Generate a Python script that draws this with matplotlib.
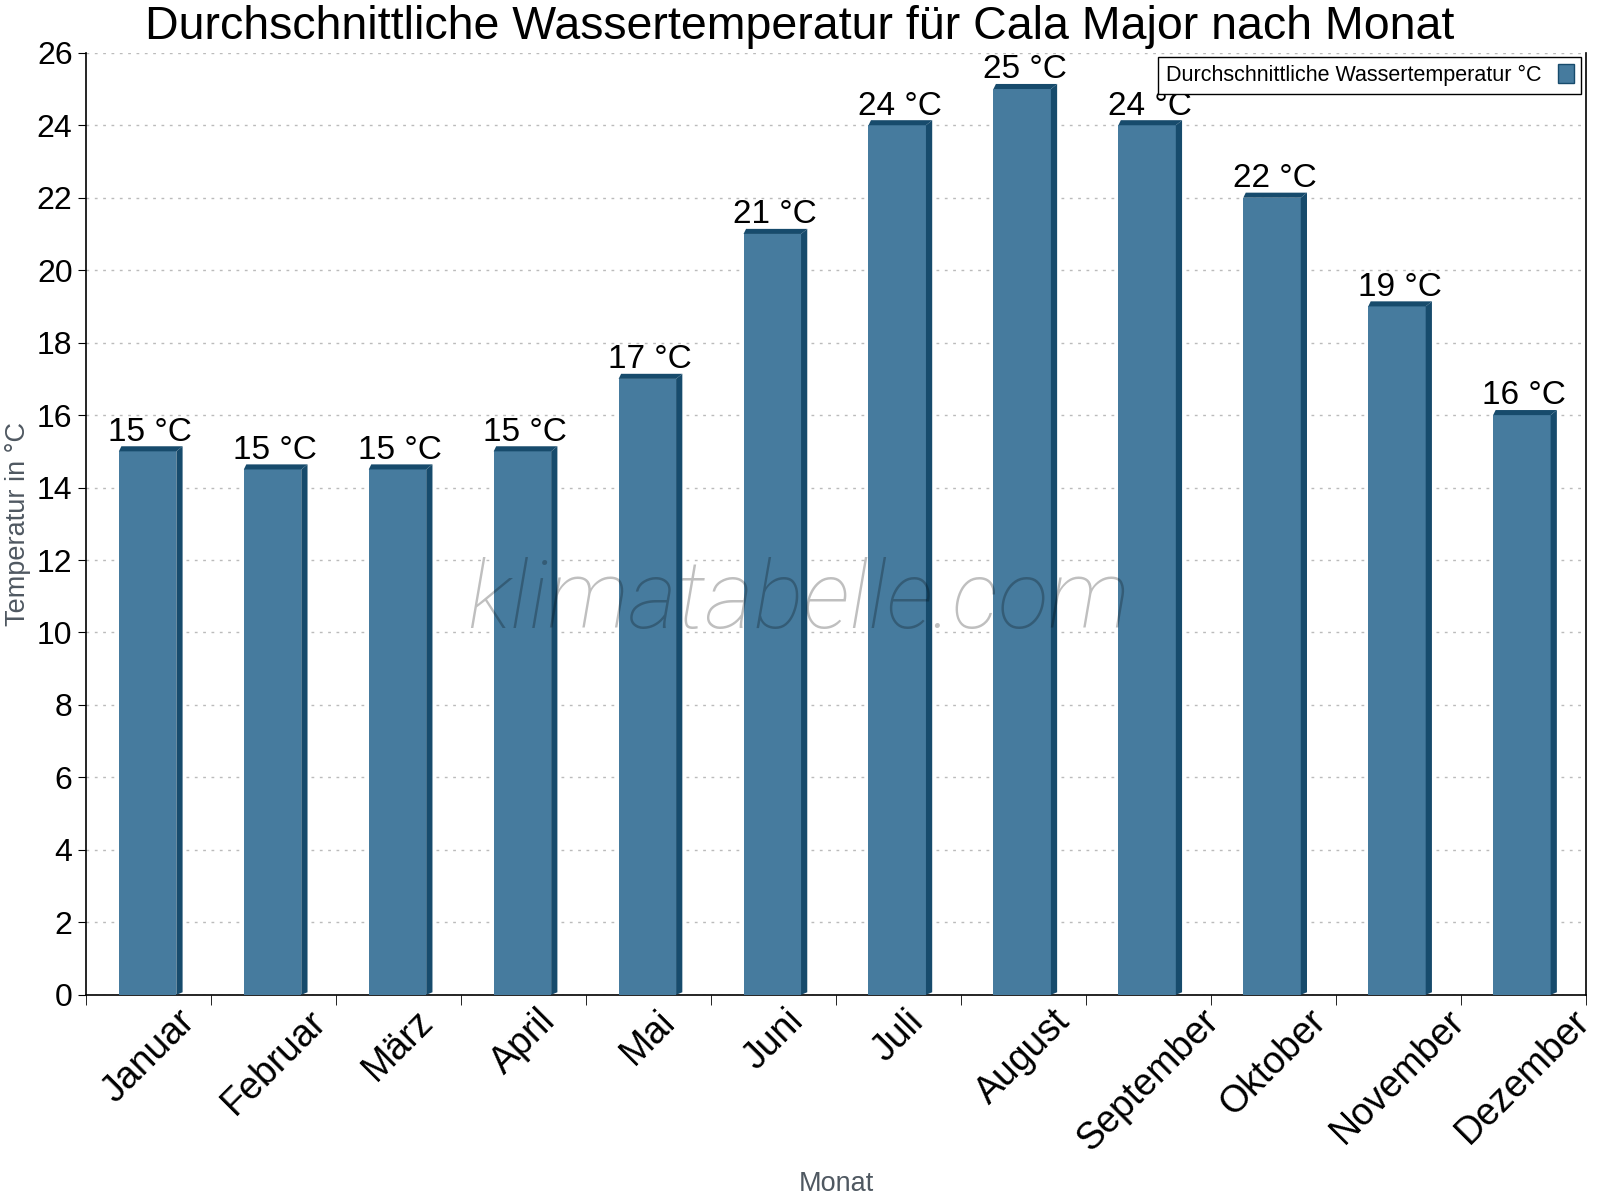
import matplotlib
matplotlib.use("Agg")
import matplotlib.pyplot as plt
from matplotlib.patches import Polygon

# Data
MONTHS = ["Januar", "Februar", "März", "April", "Mai", "Juni", "Juli",
          "August", "September", "Oktober", "November", "Dezember"]
WATER_TEMP = [15, 14.5, 14.5, 15, 17, 21, 24, 25, 24, 22, 19, 16]
BAR_LABELS = ["15 °C", "15 °C", "15 °C", "15 °C", "17 °C", "21 °C", "24 °C",
              "25 °C", "24 °C", "22 °C", "19 °C", "16 °C"]
Y_TICKS = list(range(0, 27, 2))

FRONT = "#467b9e"
DARK = "#174b6c"
LABEL_GREY = "#4f5861"

plt.rcParams["font.family"] = ["Liberation Sans", "DejaVu Sans"]

fig = plt.figure(figsize=(16, 12), dpi=100)
ax = fig.add_axes([0.054, 0.171, 0.937, 0.785])

# 3D look: front face, dark top and right side
width = 0.46
dx = 0.05
dy = 0.14
for i, val in enumerate(WATER_TEMP):
    x0 = i - 0.24
    x1 = x0 + width
    ax.bar(x0, val, width=width, align="edge", color=FRONT, zorder=3)
    top = Polygon([(x0, val), (x0 + dx * 0.4, val + dy), (x1 + dx, val + dy), (x1, val)],
                  closed=True, facecolor=DARK, edgecolor="none", zorder=3)
    side = Polygon([(x1, 0), (x1 + dx, dy * 0.5), (x1 + dx, val + dy), (x1, val)],
                   closed=True, facecolor=DARK, edgecolor="none", zorder=3)
    ax.add_patch(top)
    ax.add_patch(side)
    ax.text(i + 0.01, val + dy - 0.04, BAR_LABELS[i], ha="center", va="bottom",
            fontsize=24, color="black", zorder=5)

ax.set_xlim(-0.5, len(MONTHS) - 0.5)
ax.set_ylim(0, 26)
ax.set_yticks(Y_TICKS)
ax.tick_params(axis="y", labelsize=23, length=6, direction="out", pad=4)

ax.set_xticks(range(len(MONTHS)))
ax.set_xticklabels(MONTHS, rotation=45, fontsize=27)
ax.tick_params(axis="x", which="major", length=0, pad=6)
ax.set_xticks([k - 0.5 for k in range(len(MONTHS) + 1)], minor=True)
ax.tick_params(axis="x", which="minor", length=7, direction="out")

ax.grid(axis="y", linestyle=(0, (2, 4)), color="#bbbbbb", linewidth=1, zorder=0)
ax.set_axisbelow(True)
ax.spines["top"].set_visible(False)
for s in ["left", "bottom", "right"]:
    ax.spines[s].set_linewidth(1.2)

ax.set_xlabel("Monat", fontsize=19.5, color=LABEL_GREY)
ax.xaxis.set_label_coords(0.5, -0.187)
ax.set_ylabel("Temperatur in °C", fontsize=19.5, color=LABEL_GREY)
ax.yaxis.set_label_coords(-0.037, 0.5)

fig.text(0.5, 0.9677, "Durchschnittliche Wassertemperatur für Cala Major nach Monat",
         fontsize=33.5, ha="center", va="baseline")

# watermark
ax.text(0.475, 0.417, "klimatabelle.com", transform=ax.transAxes, ha="center",
        va="center", fontsize=67.5, style="italic", fontweight="light",
        family=["Roboto", "Liberation Sans"], color="black", alpha=0.25,
        zorder=6)

leg_handle = plt.Rectangle((0, 0), 1, 1, facecolor=FRONT, edgecolor=DARK)
leg = ax.legend([leg_handle], ["Durchschnittliche Wassertemperatur °C"],
                loc="upper right", bbox_to_anchor=(0.997, 0.996), fontsize=15.5,
                markerfirst=False, fancybox=False, framealpha=1,
                edgecolor="black", handlelength=0.7, handleheight=1.0,
                borderpad=0.35, handletextpad=0.8, borderaxespad=0)
leg.get_frame().set_linewidth(1.0)

fig.savefig("out.png", dpi=100)
